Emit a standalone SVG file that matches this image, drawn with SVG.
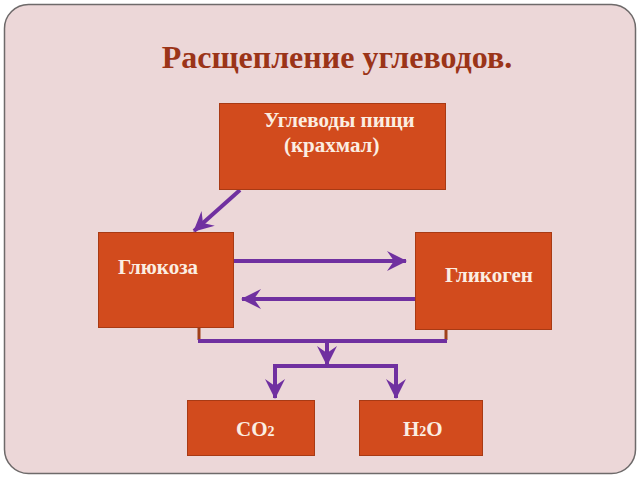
<svg xmlns="http://www.w3.org/2000/svg" width="640" height="480" viewBox="0 0 640 480">
  <defs>
    <style>
      .box { fill: #d24b1d; stroke: #a83a14; stroke-width: 1; }
      .lbl { font-family: "Liberation Serif", serif; font-weight: bold; font-size: 21px; fill: #fbeee2; }
      .con { stroke: #7030a0; stroke-width: 4; fill: none; }
      .stub { stroke: #a0401a; stroke-width: 3; fill: none; }
    </style>
    <marker id="arr" markerUnits="userSpaceOnUse" markerWidth="24" markerHeight="24" viewBox="-21 -12 24 24" refX="0" refY="0" orient="auto">
      <path d="M1,0 L-19,-10 L-12,0 L-19,10 Z" fill="#7030a0"/>
    </marker>
  </defs>
  <rect x="0" y="0" width="640" height="480" fill="#ffffff"/>
  <rect x="4.5" y="4.5" width="631" height="469" rx="24" fill="#ecd7d8" stroke="#6e6a6a" stroke-width="1.5"/>
  <text x="337" y="68" text-anchor="middle" font-family="Liberation Serif, serif" font-weight="bold" font-size="32" fill="#9b3418">Расщепление углеводов.</text>

  <g id="connectors">
    <line class="con" x1="240" y1="190" x2="194" y2="231" marker-end="url(#arr)"/>
    <line class="con" x1="234" y1="261" x2="406" y2="261" marker-end="url(#arr)"/>
    <line class="con" x1="415" y1="299" x2="242" y2="299" marker-end="url(#arr)"/>
    <path class="stub" d="M199,327 V340 M446,329 V340"/>
    <line class="con" x1="198" y1="341" x2="447" y2="341"/>
    <line class="con" x1="327" y1="341" x2="327" y2="365" marker-end="url(#arr)"/>
    <path class="con" d="M275,380 V366 H396 V380"/>
    <line class="con" x1="275" y1="366" x2="275" y2="398" marker-end="url(#arr)"/>
    <line class="con" x1="396" y1="366" x2="396" y2="398" marker-end="url(#arr)"/>
  </g>

  <g id="node-food">
    <rect class="box" x="219.5" y="103.5" width="226" height="86"/>
    <text class="lbl" x="264" y="127">Углеводы пищи</text>
    <text class="lbl" x="284" y="152">(крахмал)</text>
  </g>
  <g id="node-glucose">
    <rect class="box" x="98.5" y="232.5" width="135" height="95"/>
    <text class="lbl" x="118" y="274">Глюкоза</text>
  </g>
  <g id="node-glycogen">
    <rect class="box" x="415.5" y="232.5" width="136" height="97"/>
    <text class="lbl" x="445" y="282">Гликоген</text>
  </g>
  <g id="node-co2">
    <rect class="box" x="187.5" y="400.5" width="127" height="55"/>
    <text class="lbl" x="236" y="436">CO<tspan font-size="14">2</tspan></text>
  </g>
  <g id="node-h2o">
    <rect class="box" x="359.5" y="400.5" width="123" height="55"/>
    <text class="lbl" x="403" y="436">H<tspan font-size="14">2</tspan>O</text>
  </g>
</svg>
